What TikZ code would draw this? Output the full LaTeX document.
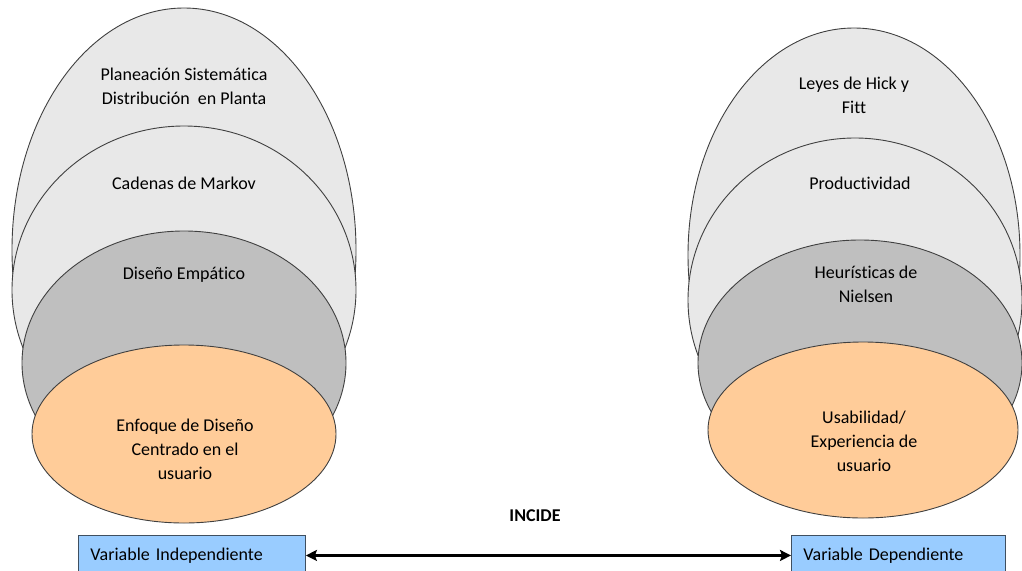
\documentclass[tikz,border=0pt]{standalone}
\usepackage{fontspec}
\setmainfont{Carlito}[Ligatures=NoCommon]
\usetikzlibrary{shapes.geometric,arrows.meta}
\definecolor{paleg}{HTML}{E8E8E8}
\definecolor{midg}{HTML}{BFBFBF}
\definecolor{peach}{HTML}{FFCC99}
\definecolor{rim}{HTML}{404040}
\definecolor{skyb}{HTML}{99CCFF}
\definecolor{boxrim}{HTML}{3F4F60}
\tikzset{
  ell/.style={ellipse, draw=rim, line width=0.9pt, inner sep=0pt},
  txt/.style={align=center, font=\fontsize{18}{24}\selectfont, inner sep=0pt},
  varbox/.style={draw=boxrim, line width=0.9pt, fill=skyb, anchor=north west,
    align=left, inner xsep=12pt, inner ysep=0pt, minimum height=40,
    font=\fontsize{18}{24}\selectfont},
  link/.style={<->, >={Stealth[length=11pt,width=11pt,inset=2pt]}, line width=2.2pt}
}
\begin{document}
\begin{tikzpicture}[x=1pt,y=-1pt]
\useasboundingbox (0,0) rectangle (1022,570);
\clip (0,0) rectangle (1022,570);

% left stack of ellipses
\node[ell, fill=paleg, minimum width=344, minimum height=484] (la) at (184,250) {};
\node[ell, fill=paleg, minimum width=344, minimum height=328] (lb) at (184,290) {};
\node[ell, fill=midg,  minimum width=324, minimum height=264] (lc) at (184,363) {};
\node[ell, fill=peach, minimum width=304, minimum height=178] (ld) at (184,434) {};

\node[txt] (lta) at (184,86) {Planeación Sistemática\\Distribución\ \ en Planta};
\node[txt] (ltb) at (184,183) {Cadenas de Markov};
\node[txt] (ltc) at (184,275) {Diseño Empático};
\node[txt] (ltd) at (185,449) {Enfoque de Diseño\\Centrado en el\\usuario};

% right stack of ellipses
\node[ell, fill=paleg, minimum width=332, minimum height=454] (ra) at (854,255) {};
\node[ell, fill=paleg, minimum width=334, minimum height=324] (rb) at (855,300) {};
\node[ell, fill=midg,  minimum width=324, minimum height=246] (rc) at (860,363) {};
\node[ell, fill=peach, minimum width=310, minimum height=176] (rd) at (863,430) {};

\node[txt] (rta) at (854,95) {Leyes de Hick y\\Fitt};
\node[txt] (rtb) at (860,183) {Productividad};
\node[txt] (rtc) at (866,284) {Heurísticas de\\Nielsen};
\node[txt] (rtd) at (864,441) {Usabilidad/\\Experiencia de\\usuario};

% variables and their relation
\node[txt, font=\fontsize{18}{24}\selectfont\bfseries] (inc) at (535,516) {INCIDE};
\node[varbox, text width=203pt] (indep) at (78,535) {Variable Independiente};
\node[varbox, text width=190pt] (dep) at (791,535) {Variable Dependiente};
\draw[link] (indep.east) -- (dep.west);
\end{tikzpicture}
\end{document}
